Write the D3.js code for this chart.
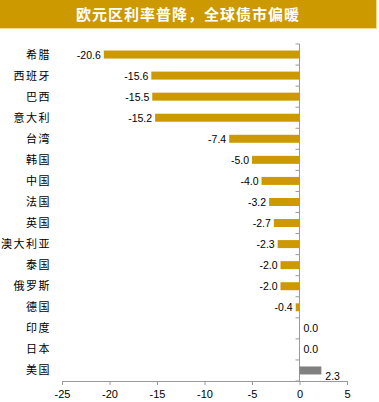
<!DOCTYPE html>
<html><head><meta charset="utf-8">
<script src="https://cdn.jsdelivr.net/npm/d3@7"></script>
<style>
body{margin:0;background:#fff;}
svg{display:block;}
</style></head>
<body><svg id="c" width="379" height="402"></svg>
<script>
const title = "欧元区利率普降，全球债市偏暖";
const categories = ["希腊","西班牙","巴西","意大利","台湾","韩国","中国","法国","英国","澳大利亚","泰国","俄罗斯","德国","印度","日本","美国"];
const values = [-20.6,-15.6,-15.5,-15.2,-7.4,-5.0,-4.0,-3.2,-2.7,-2.3,-2.0,-2.0,-0.4,0.0,0.0,2.3];
const xTicks = [-25,-20,-15,-10,-5,0,5];

const loc = d3.formatLocale({decimal:".",thousands:",",grouping:[3],currency:["",""],minus:"-"});
const svg = d3.select("#c");

// title banner
svg.append("rect").attr("x",0).attr("y",0).attr("width",377).attr("height",29).attr("fill","#F3D98C");
svg.append("rect").attr("x",0).attr("y",0).attr("width",376).attr("height",28).attr("fill","#CC9900");
svg.append("text").attr("x",188).attr("y",20).attr("text-anchor","middle")
  .attr("font-family","Noto Sans CJK SC").attr("font-size",15).attr("font-weight","bold")
  .attr("fill","#fff").attr("letter-spacing",1).text(title);

const x = d3.scaleLinear().domain([-25,5]).range([62,347]);
const yb = d3.scaleBand().domain(categories).range([44,381]);

// x axis
const xAxis = d3.axisBottom(x).tickValues(xTicks).tickSize(4).tickPadding(5).tickFormat(loc.format("d"));
const gx = svg.append("g").attr("transform","translate(0,381)").call(xAxis);
gx.select(".domain").attr("stroke","#999");
gx.selectAll(".tick line").attr("stroke","#999");
gx.selectAll(".tick text").attr("font-family","Liberation Sans, Arial").attr("font-size",11).attr("fill","#000");

// vertical zero axis with boundary ticks
const gy = svg.append("g");
gy.append("line").attr("x1",x(0)).attr("x2",x(0)).attr("y1",44).attr("y2",381).attr("stroke","#999");
const bounds = categories.map(c=>yb(c)).concat([381]);
gy.selectAll("line.t").data(bounds).enter().append("line").attr("class","t")
  .attr("x1",x(0)-4).attr("x2",x(0)).attr("y1",d=>d).attr("y2",d=>d).attr("stroke","#999");

// bars
svg.selectAll("rect.bar").data(values).enter().append("rect").attr("class","bar")
  .attr("x",d=>x(Math.min(0,d))).attr("width",d=>Math.abs(x(d)-x(0)))
  .attr("y",(d,i)=>yb(categories[i])+yb.bandwidth()/2-4).attr("height",8)
  .attr("fill",d=>d>0?"#808080":"#CC9900");

// category labels
svg.selectAll("text.cat").data(categories).enter().append("text").attr("class","cat")
  .attr("x",51).attr("y",c=>yb(c)+yb.bandwidth()/2+4).attr("text-anchor","end")
  .attr("font-family","Noto Sans CJK SC").attr("font-size",11).attr("letter-spacing",1.5).attr("fill","#000").text(c=>c);

// value labels
const vf = loc.format(".1f");
svg.selectAll("text.val").data(values).enter().append("text").attr("class","val")
  .attr("x",d=>d<0?x(d)-3:(d>0?x(d)+4:x(0)+4))
  .attr("y",(d,i)=>yb(categories[i])+yb.bandwidth()/2+4+(d>0?6:0))
  .attr("text-anchor",d=>d<0?"end":"start")
  .attr("font-family","Liberation Sans, Arial").attr("font-size",10.5).attr("fill","#000")
  .text(d=>vf(d));
</script></body></html>
